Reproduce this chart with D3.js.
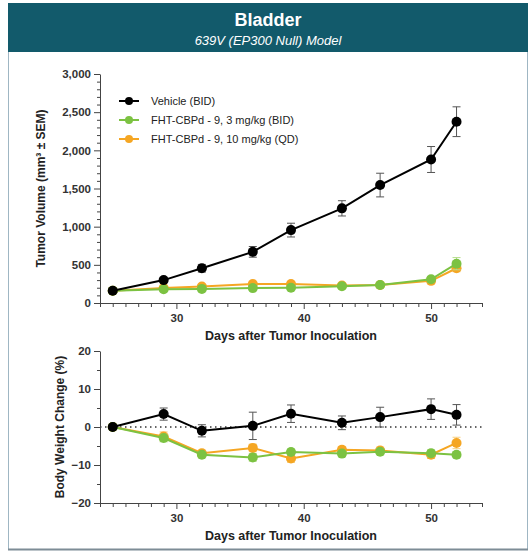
<!DOCTYPE html>
<html><head><meta charset="utf-8">
<script src="https://cdn.jsdelivr.net/npm/d3@7"></script>
<style>
html,body{margin:0;padding:0;background:#fff;}
svg{display:block;font-family:"Liberation Sans",Arial,sans-serif;}
</style></head>
<body>
<svg id="chart" width="531" height="554"></svg>
<script>
const days = [25, 29, 32, 36, 39, 43, 46, 50, 52];
const seriesNames = ["Vehicle (BID)", "FHT-CBPd - 9, 3 mg/kg (BID)", "FHT-CBPd - 9, 10 mg/kg (QD)"];
const seriesColors = ["#000000", "#7cc242", "#f5a623"];
const errColors = ["#555555", "#b5dd8a", "#f8cf7e"];
const volVehicle = [160, 300, 455, 670, 955, 1240, 1545, 1880, 2375];
const volVehicleErr = [15, 25, 50, 70, 90, 100, 155, 170, 195];
const vol3mg = [160, 180, 185, 195, 200, 220, 235, 310, 515];
const vol3mgErr = [10, 15, 15, 15, 15, 20, 20, 35, 80];
const vol10mg = [160, 195, 215, 250, 250, 230, 235, 290, 455];
const vol10mgErr = [10, 15, 20, 20, 20, 20, 20, 30, 45];
const bwVehicle = [0, 3.4, -1.0, 0.3, 3.5, 1.1, 2.6, 4.7, 3.2];
const bwVehicleErr = [0.3, 1.6, 1.6, 3.6, 2.3, 1.8, 2.6, 2.7, 2.7];
const bw3mg = [0, -2.9, -7.3, -8.0, -6.6, -7.0, -6.5, -6.9, -7.3];
const bw3mgErr = [0.2, 1.0, 0.8, 1.0, 0.8, 0.8, 0.8, 0.9, 0.8];
const bw10mg = [0, -2.5, -6.9, -5.5, -8.3, -6.0, -6.2, -7.3, -4.2];
const bw10mgErr = [0.2, 1.2, 0.8, 1.0, 1.0, 0.9, 0.9, 1.0, 1.5];
const volTicks = [0, 500, 1000, 1500, 2000, 2500, 3000];
const bwTicks = [-20, -10, 0, 10, 20];
const dayTicks = [30, 40, 50];

const svg = d3.select("#chart");

// panel frame
svg.append("rect").attr("x", 8.5).attr("y", 3.5).attr("width", 519).attr("height", 546)
  .attr("fill", "#fff").attr("stroke", "#9fb6c3").attr("stroke-width", 1);
svg.append("rect").attr("x", 8).attr("y", 3).attr("width", 520).attr("height", 49).attr("fill", "#125a6b");
svg.append("line").attr("x1", 8).attr("x2", 528).attr("y1", 549.5).attr("y2", 549.5).attr("stroke", "#7d8c96").attr("stroke-width", 2);
svg.append("text").attr("x", 268).attr("y", 26).attr("text-anchor", "middle")
  .attr("fill", "#fff").attr("font-size", 18).attr("font-weight", "bold").text("Bladder");
svg.append("text").attr("x", 268).attr("y", 45).attr("text-anchor", "middle")
  .attr("fill", "#fff").attr("font-size", 13).attr("font-style", "italic").text("639V (EP300 Null) Model");

const x = d3.scaleLinear().domain([24, 54]).range([100, 482]);
const yTop = d3.scaleLinear().domain([0, 3000]).range([303, 74]);
const yBot = d3.scaleLinear().domain([-20, 20]).range([503, 351]);

function styleAxis(g) {
  g.selectAll("path,line").attr("stroke", "#444").attr("stroke-width", 1);
  g.selectAll("text").attr("fill", "#333").attr("font-size", 11.5).attr("font-weight", "bold")
    .attr("font-family", "Liberation Sans, Arial, sans-serif");
}

function drawPanel(y, ticks, minorStep, fmt, yBase, yTitle, yTitleX, sets) {
  const ext = y.domain();
  const minor = d3.range(ext[0], ext[1] + 1e-9, minorStep).filter(v => !ticks.includes(v));
  svg.append("g").attr("transform", `translate(100,0)`)
    .call(d3.axisLeft(y).tickValues(minor).tickSize(3).tickFormat("")).call(styleAxis)
    .select(".domain").remove();
  svg.append("g").attr("transform", `translate(100,0)`)
    .call(d3.axisLeft(y).tickValues(ticks).tickSize(6).tickSizeOuter(0).tickFormat(fmt).tickPadding(3)).call(styleAxis);
  const xMinor = d3.range(24, 55, 1).filter(v => !dayTicks.includes(v));
  svg.append("g").attr("transform", `translate(0,${yBase})`)
    .call(d3.axisBottom(x).tickValues(xMinor).tickSize(4).tickFormat("")).call(styleAxis)
    .select(".domain").remove();
  svg.append("g").attr("transform", `translate(0,${yBase})`)
    .call(d3.axisBottom(x).tickValues(dayTicks).tickSize(6).tickSizeOuter(0).tickPadding(5)).call(styleAxis);
  svg.append("text").attr("x", 291).attr("y", yBase + 37).attr("text-anchor", "middle")
    .attr("font-size", 12.5).attr("font-weight", "bold").attr("fill", "#222").text("Days after Tumor Inoculation");
  const cy = (y.range()[0] + y.range()[1]) / 2;
  svg.append("text").attr("transform", `translate(${yTitleX},${cy}) rotate(-90)`)
    .attr("text-anchor", "middle").attr("font-size", 12).attr("font-weight", "bold").attr("fill", "#222").text(yTitle);

  sets.forEach((s, i) => {
    const g = svg.append("g");
    const pts = days.map((d, k) => ({d, v: s.v[k], e: s.e[k]}));
    g.selectAll("line.err").data(pts).join("line")
      .attr("x1", p => x(p.d)).attr("x2", p => x(p.d))
      .attr("y1", p => y(p.v - p.e)).attr("y2", p => y(p.v + p.e))
      .attr("stroke", s.ec).attr("stroke-width", 1);
    g.selectAll("line.capt").data(pts).join("line")
      .attr("x1", p => x(p.d) - 4).attr("x2", p => x(p.d) + 4)
      .attr("y1", p => y(p.v + p.e)).attr("y2", p => y(p.v + p.e))
      .attr("stroke", s.ec).attr("stroke-width", 1);
    g.selectAll("line.capb").data(pts).join("line")
      .attr("x1", p => x(p.d) - 4).attr("x2", p => x(p.d) + 4)
      .attr("y1", p => y(p.v - p.e)).attr("y2", p => y(p.v - p.e))
      .attr("stroke", s.ec).attr("stroke-width", 1);
    g.append("path").datum(pts)
      .attr("d", d3.line().x(p => x(p.d)).y(p => y(p.v)))
      .attr("fill", "none").attr("stroke", s.c).attr("stroke-width", 2);
    g.selectAll("circle").data(pts).join("circle")
      .attr("cx", p => x(p.d)).attr("cy", p => y(p.v)).attr("r", 5).attr("fill", s.c);
  });
}

const volSets = [
  {v: vol10mg, e: vol10mgErr, c: seriesColors[2], ec: errColors[2]},
  {v: vol3mg, e: vol3mgErr, c: seriesColors[1], ec: errColors[1]},
  {v: volVehicle, e: volVehicleErr, c: seriesColors[0], ec: errColors[0]}
];
drawPanel(yTop, volTicks, 100, d3.format(","), 303, "Tumor Volume (mm³ ± SEM)", 45, volSets);

svg.append("line").attr("x1", 100).attr("x2", 482).attr("y1", yBot(0)).attr("y2", yBot(0))
  .attr("stroke", "#333").attr("stroke-width", 1.5).attr("stroke-dasharray", "1.5,3.5");
const bwSets = [
  {v: bw10mg, e: bw10mgErr, c: seriesColors[2], ec: errColors[2]},
  {v: bw3mg, e: bw3mgErr, c: seriesColors[1], ec: errColors[1]},
  {v: bwVehicle, e: bwVehicleErr, c: seriesColors[0], ec: errColors[0]}
];
drawPanel(yBot, bwTicks, 5, d3.format("d"), 503, "Body Weight Change  (%)", 64, bwSets);

const leg = svg.append("g");
seriesNames.forEach((n, i) => {
  const yy = 101 + i * 19;
  leg.append("line").attr("x1", 119).attr("x2", 139).attr("y1", yy).attr("y2", yy)
    .attr("stroke", seriesColors[i]).attr("stroke-width", 2);
  leg.append("circle").attr("cx", 129).attr("cy", yy).attr("r", 4).attr("fill", seriesColors[i]);
  leg.append("text").attr("x", 151).attr("y", yy + 4).attr("font-size", 11).attr("fill", "#222").text(n);
});
</script>
</body></html>
